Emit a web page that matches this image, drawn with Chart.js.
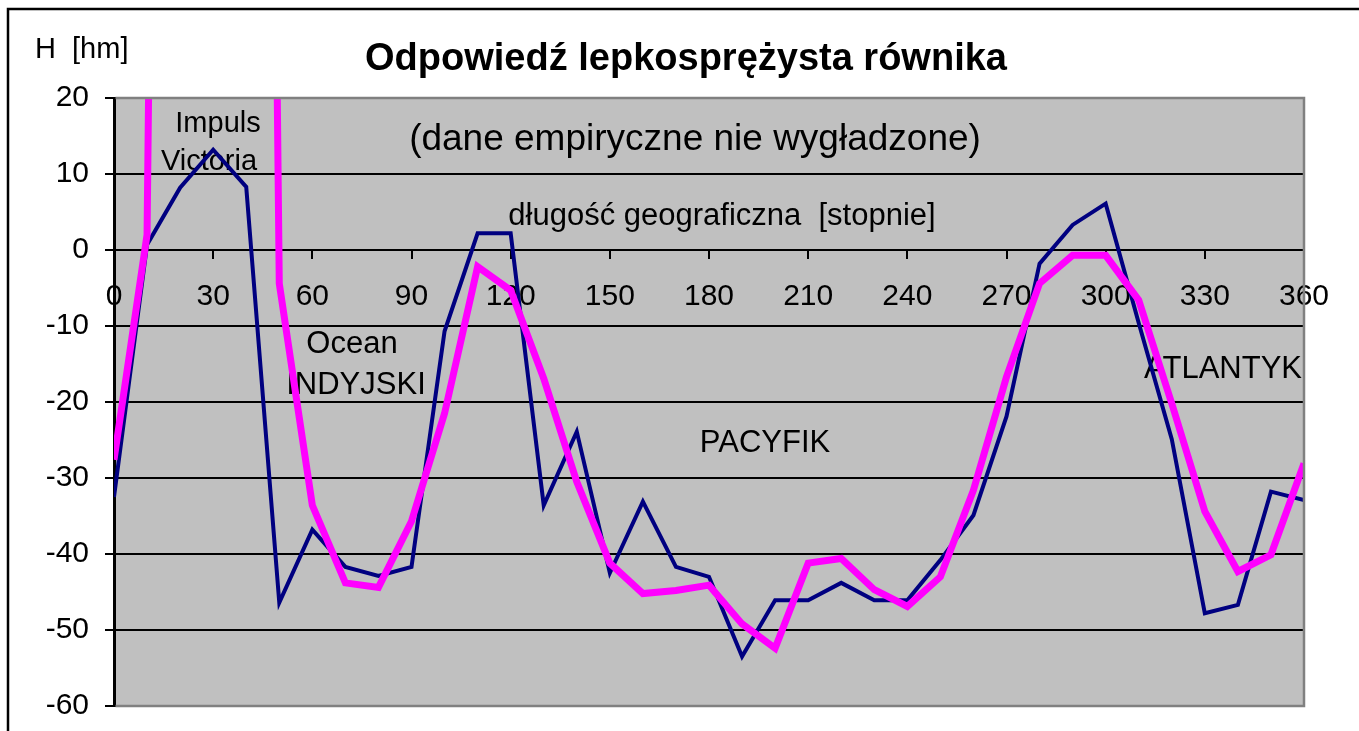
<!DOCTYPE html>
<html>
<head>
<meta charset="utf-8">
<script src="https://cdn.jsdelivr.net/npm/chart.js@4.4.1/dist/chart.umd.min.js"></script>
<style>
  body { margin: 0; background: #fff; }
  canvas { display: block; }
</style>
</head>
<body>
<canvas id="wykres" width="1359" height="731"></canvas>
<script>
// długość geograficzna [stopnie]
const dlugosc = [0, 10, 20, 30, 40, 50, 60, 70, 80, 90, 100, 110, 120, 130, 140, 150, 160, 170, 180,
  190, 200, 210, 220, 230, 240, 250, 260, 270, 280, 290, 300, 310, 320, 330, 340, 350, 360];

// H [hm] - dane empiryczne (granatowa linia)
const hEmpiryczne = [-32.5, 0.7, 8.2, 13.2, 8.3, -46.4, -36.8, -41.7, -42.9, -41.7, -10.7, 2.2, 2.2,
  -33.6, -23.9, -42.5, -33.1, -41.7, -43.0, -53.5, -46.1, -46.1, -43.8, -46.1, -46.1, -40.8, -34.9,
  -21.9, -1.8, 3.3, 6.1, -9.6, -24.9, -47.8, -46.7, -31.8, -32.9];

// H [hm] - odpowiedź lepkosprężysta (różowa linia), impuls Victoria wychodzi poza skalę
const hOdpowiedz = [-27.6, 2.0, 400, 400, 400, -4.4, -33.6, -43.8, -44.4, -35.7, -21.5, -2.2, -5.3,
  -16.9, -30.5, -41.2, -45.2, -44.8, -44.1, -49.2, -52.4, -41.2, -40.6, -44.7, -46.9, -43.0, -31.6,
  -16.7, -4.4, -0.7, -0.7, -6.6, -20.2, -34.4, -42.3, -40.1, -28.1];

const tickiX = [0, 30, 60, 90, 120, 150, 180, 210, 240, 270, 300, 330, 360];
const tickiY = [20, 10, 0, -10, -20, -30, -40, -50, -60];

const FONT = "'Liberation Sans', Arial, sans-serif";

function punkty(ys) {
    return dlugosc.map((x, i) => ({ x: x, y: ys[i] }));
}

// Tło, ramka, napisy
const dekoracje = {
    id: 'dekoracje',
    beforeDraw(chart) {
        const { ctx, chartArea: a } = chart;
        ctx.save();
        ctx.fillStyle = '#ffffff';
        ctx.fillRect(0, 0, chart.width, chart.height);
        ctx.strokeStyle = '#000000';
        ctx.lineWidth = 2.5;
        ctx.strokeRect(8, 9, chart.width + 40, chart.height + 40);
        ctx.fillStyle = '#c0c0c0';
        ctx.fillRect(a.left, a.top, a.right - a.left, a.bottom - a.top);
        ctx.restore();
    },
    beforeDatasetsDraw(chart) {
        const ctx = chart.ctx;
        ctx.save();
        ctx.fillStyle = '#000000';
        ctx.textBaseline = 'alphabetic';

        ctx.textAlign = 'left';
        ctx.font = '29px ' + FONT;
        ctx.fillText('H  [hm]', 35, 58);

        ctx.textAlign = 'center';
        ctx.font = 'bold 38px ' + FONT;
        ctx.fillText('Odpowiedź lepkosprężysta równika', 686, 70);

        ctx.font = '29px ' + FONT;
        ctx.fillText('Impuls', 218, 132);
        ctx.fillText('Victoria', 209, 170);
        ctx.font = '37px ' + FONT;
        ctx.fillText('(dane empiryczne nie wygładzone)', 695, 150);
        ctx.font = '31px ' + FONT;
        ctx.fillText('długość geograficzna  [stopnie]', 722, 225);
        ctx.fillText('Ocean', 352, 353);
        ctx.fillText('INDYJSKI', 356, 394);
        ctx.fillText('PACYFIK', 765, 452);
        ctx.textAlign = 'right';
        ctx.fillText('ATLANTYK', 1302, 378);
        ctx.restore();
    },
    afterDatasetsDraw(chart) {
        const { ctx, chartArea: a } = chart;
        ctx.save();
        ctx.strokeStyle = '#808080';
        ctx.lineWidth = 2.5;
        ctx.beginPath();
        ctx.moveTo(a.left + 1.5, a.top);
        ctx.lineTo(a.right, a.top);
        ctx.lineTo(a.right, a.bottom);
        ctx.lineTo(a.left + 1.5, a.bottom);
        ctx.stroke();
        ctx.restore();
    }
};

new Chart(document.getElementById('wykres'), {
    type: 'scatter',
    data: {
        datasets: [{
            label: 'odpowiedź',
            data: punkty(hOdpowiedz),
            showLine: true,
            borderColor: '#ff00ff',
            backgroundColor: '#ff00ff',
            borderWidth: 7,
            pointRadius: 0,
            tension: 0,
            clip: 0,
            order: 1
        }, {
            label: 'dane empiryczne',
            data: punkty(hEmpiryczne),
            showLine: true,
            borderColor: '#000080',
            backgroundColor: '#000080',
            borderWidth: 4,
            pointRadius: 0,
            tension: 0,
            clip: 0,
            order: 2
        }]
    },
    options: {
        responsive: false,
        animation: false,
        layout: { padding: { left: 0, top: 98, right: 55, bottom: 25 } },
        plugins: {
            legend: { display: false },
            title: { display: false },
            tooltip: { enabled: false }
        },
        scales: {
            x: {
                type: 'linear',
                position: { y: 0 },
                min: 0,
                max: 360,
                afterBuildTicks: (s) => { s.ticks = tickiX.map(v => ({ value: v })); },
                afterFit: (s) => { s.paddingLeft = 0; s.paddingRight = 0; s.paddingTop = 0; s.paddingBottom = 0; },
                grid: {
                    drawOnChartArea: false,
                    drawTicks: true,
                    tickLength: 8,
                    color: '#000000',
                    lineWidth: 2
                },
                border: { display: true, color: '#000000', width: 2 },
                ticks: {
                    padding: 21,
                    color: '#000000',
                    maxRotation: 0,
                    autoSkip: false,
                    font: { family: FONT, size: 30 }
                }
            },
            y: {
                type: 'linear',
                position: 'left',
                min: -60,
                max: 20,
                afterBuildTicks: (s) => { s.ticks = tickiY.map(v => ({ value: v })); },
                afterFit: (s) => { s.width = 114; s.paddingTop = 0; s.paddingBottom = 0; },
                grid: {
                    color: (c) => (c.tick && (c.tick.value === 20 || c.tick.value === -60)) ? 'rgba(0,0,0,0)' : '#000000',
                    tickColor: '#000000',
                    lineWidth: 2,
                    tickLength: 9
                },
                border: { display: true, color: '#000000', width: 3 },
                ticks: {
                    padding: 16,
                    color: '#000000',
                    autoSkip: false,
                    font: { family: FONT, size: 30 }
                }
            }
        }
    },
    plugins: [dekoracje]
});
</script>
</body>
</html>
